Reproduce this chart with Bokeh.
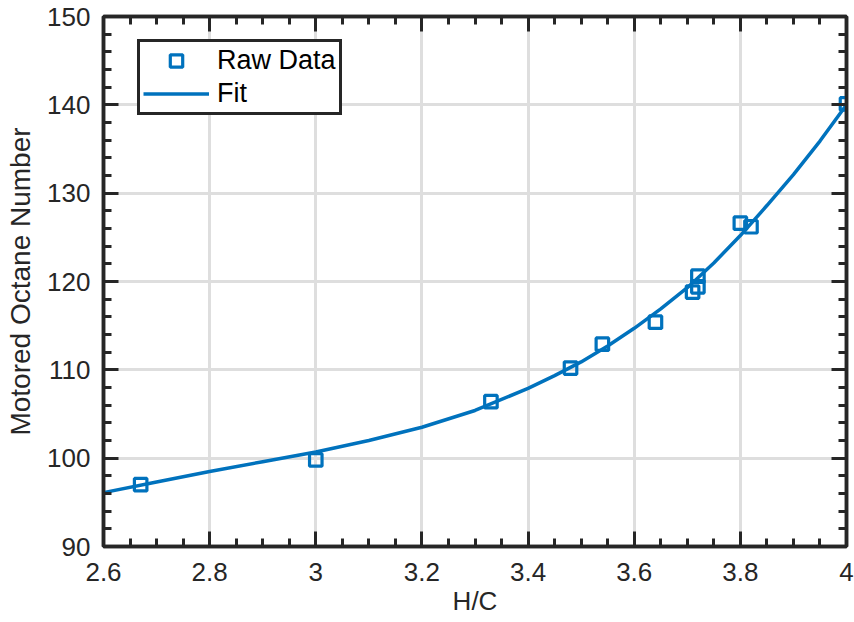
from bokeh.plotting import figure
from bokeh.models import (LinearAxis, SingleIntervalTicker, Range1d, Legend, LegendItem,
                          CustomJSTickFormatter)
from bokeh.embed import file_html
from bokeh.resources import INLINE

# Raw data
hc_raw = [2.67, 3.00, 3.33, 3.48, 3.54, 3.64, 3.71, 3.72, 3.72, 3.80, 3.82, 4.00]
mon_raw = [97.0, 99.8, 106.4, 110.2, 112.9, 115.4, 118.8, 119.4, 120.6, 126.6, 126.2, 140.1]

# Fit curve
fit_x = [2.60, 2.70, 2.80, 2.90, 3.00, 3.10, 3.20, 3.30, 3.40, 3.45, 3.50, 3.55,
         3.60, 3.65, 3.70, 3.75, 3.80, 3.85, 3.90, 3.95, 4.00]
fit_y = [96.1, 97.3, 98.5, 99.6, 100.7, 102.0, 103.5, 105.4, 107.9, 109.35, 110.9, 112.7,
         114.7, 116.9, 119.3, 122.1, 125.2, 128.6, 132.1, 135.9, 140.0]

x_label = "H/C"
y_label = "Motored Octane Number"
series_names = ["Raw Data", "Fit"]

BLUE = "#0072BD"
AX = "#262626"
FONT = "Liberation Sans"

p = figure(width=854, height=622, output_backend="svg", toolbar_location=None,
           x_range=Range1d(2.6, 4.0), y_range=Range1d(90, 150),
           min_border_left=103, min_border_right=8, min_border_top=16, min_border_bottom=76)

p.outline_line_color = AX
p.outline_line_width = 3.5

xt = SingleIntervalTicker(interval=0.2, num_minor_ticks=4)
yt = SingleIntervalTicker(interval=10, num_minor_ticks=5)
p.xaxis.ticker = xt
p.yaxis.ticker = yt
p.xgrid.ticker = xt
p.ygrid.ticker = yt

for g in (p.xgrid, p.ygrid):
    g.grid_line_color = "#dedede"
    g.grid_line_width = 3

def style_axis(ax, show_labels):
    ax.axis_line_color = AX
    ax.axis_line_width = 3.5
    ax.major_tick_line_color = AX
    ax.minor_tick_line_color = AX
    ax.major_tick_line_width = 3
    ax.minor_tick_line_width = 3
    ax.major_tick_in = 15
    ax.major_tick_out = 0
    ax.minor_tick_in = 8
    ax.minor_tick_out = 0
    ax.major_label_text_font = FONT
    ax.major_label_text_color = AX
    ax.major_label_text_font_size = "26px"
    if not show_labels:
        ax.formatter = CustomJSTickFormatter(code="return '';")
        ax.major_label_standoff = 0

style_axis(p.xaxis[0], True)
style_axis(p.yaxis[0], True)
p.xaxis.major_label_standoff = 16
p.yaxis.major_label_standoff = 13
p.xaxis.axis_label = x_label
p.yaxis.axis_label = y_label
for ax in (p.xaxis[0], p.yaxis[0]):
    ax.axis_label_text_font = FONT
    ax.axis_label_text_font_style = "normal"
    ax.axis_label_text_color = AX
p.xaxis.axis_label_text_font_size = "26px"
p.yaxis.axis_label_text_font_size = "28px"
p.xaxis.axis_label_standoff = 2
p.yaxis.axis_label_standoff = 8

top_ax = LinearAxis(ticker=xt)
right_ax = LinearAxis(ticker=yt)
style_axis(top_ax, False)
style_axis(right_ax, False)
p.add_layout(top_ax, "above")
p.add_layout(right_ax, "right")

r_fit = p.line(fit_x, fit_y, line_color=BLUE, line_width=3.5)
r_raw = p.scatter(hc_raw, mon_raw, marker="square", size=12.5, line_color=BLUE,
                  line_width=3.2, fill_color=None)

legend = Legend(items=[LegendItem(label=series_names[0], renderers=[r_raw]),
                       LegendItem(label=series_names[1], renderers=[r_fit])],
                location=(34, 431))
legend.label_text_font = FONT
legend.label_text_font_size = "27px"
legend.label_text_color = "#000000"
legend.border_line_color = AX
legend.border_line_width = 3.5
legend.border_line_alpha = 1
legend.background_fill_color = "white"
legend.background_fill_alpha = 1
legend.padding = 3
legend.spacing = 2
legend.label_height = 31
legend.glyph_height = 31
legend.glyph_width = 66
legend.label_standoff = 8
legend.margin = 0
p.add_layout(legend, "center")

open("out.html", "w").write(file_html(p, INLINE))
